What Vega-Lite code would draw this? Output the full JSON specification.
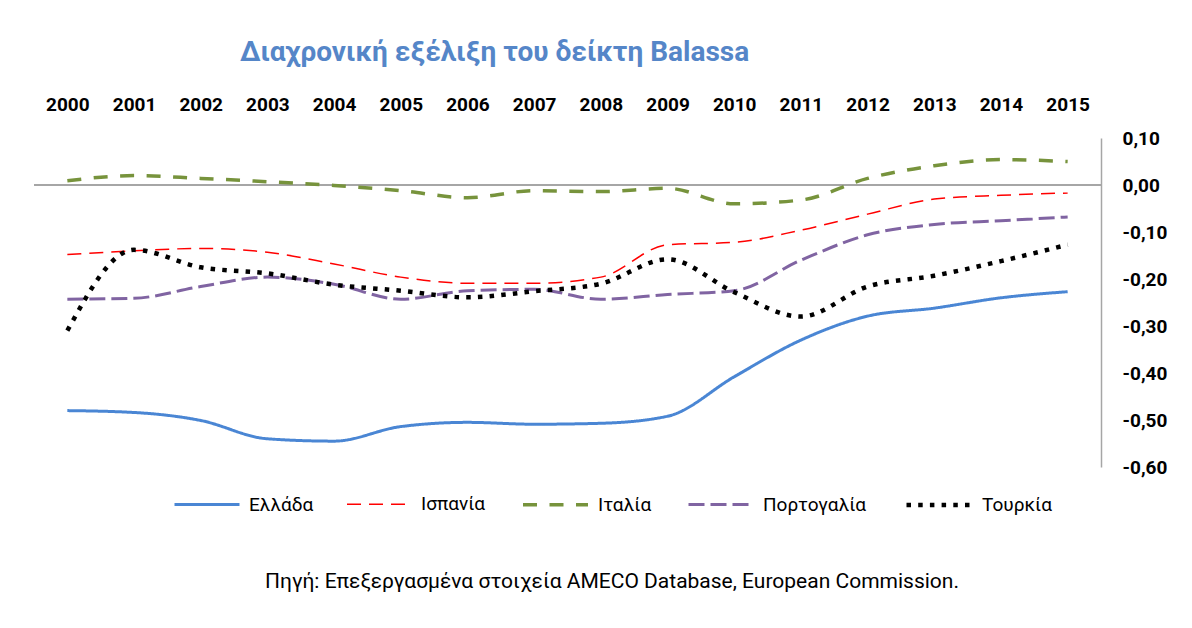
{
  "$schema": "https://vega.github.io/schema/vega-lite/v6.json",
  "autosize": {"type": "none"},
  "width": 1067,
  "height": 329,
  "padding": {"left": 34, "top": 138, "right": 91, "bottom": 161},
  "background": "white",
  "config": {"view": {"stroke": null}},
  "title": {
    "text": "Διαχρονική εξέλιξη του δείκτη Balassa",
    "anchor": "start",
    "frame": "group",
    "dx": 206,
    "offset": 28,
    "font": "Roboto",
    "fontSize": 28,
    "fontWeight": "bold",
    "color": "#5586C8"
  },
  "data": {
    "values": [
      {"year": "2000", "country": "Ελλάδα", "value": -0.480},
      {"year": "2001", "country": "Ελλάδα", "value": -0.484},
      {"year": "2002", "country": "Ελλάδα", "value": -0.501},
      {"year": "2003", "country": "Ελλάδα", "value": -0.540},
      {"year": "2004", "country": "Ελλάδα", "value": -0.545},
      {"year": "2005", "country": "Ελλάδα", "value": -0.514},
      {"year": "2006", "country": "Ελλάδα", "value": -0.505},
      {"year": "2007", "country": "Ελλάδα", "value": -0.509},
      {"year": "2008", "country": "Ελλάδα", "value": -0.507},
      {"year": "2009", "country": "Ελλάδα", "value": -0.492},
      {"year": "2010", "country": "Ελλάδα", "value": -0.408},
      {"year": "2011", "country": "Ελλάδα", "value": -0.330},
      {"year": "2012", "country": "Ελλάδα", "value": -0.279},
      {"year": "2013", "country": "Ελλάδα", "value": -0.262},
      {"year": "2014", "country": "Ελλάδα", "value": -0.240},
      {"year": "2015", "country": "Ελλάδα", "value": -0.227},
      {"year": "2000", "country": "Ισπανία", "value": -0.148},
      {"year": "2001", "country": "Ισπανία", "value": -0.140},
      {"year": "2002", "country": "Ισπανία", "value": -0.135},
      {"year": "2003", "country": "Ισπανία", "value": -0.143},
      {"year": "2004", "country": "Ισπανία", "value": -0.168},
      {"year": "2005", "country": "Ισπανία", "value": -0.196},
      {"year": "2006", "country": "Ισπανία", "value": -0.209},
      {"year": "2007", "country": "Ισπανία", "value": -0.209},
      {"year": "2008", "country": "Ισπανία", "value": -0.196},
      {"year": "2009", "country": "Ισπανία", "value": -0.127},
      {"year": "2010", "country": "Ισπανία", "value": -0.122},
      {"year": "2011", "country": "Ισπανία", "value": -0.096},
      {"year": "2012", "country": "Ισπανία", "value": -0.062},
      {"year": "2013", "country": "Ισπανία", "value": -0.030},
      {"year": "2014", "country": "Ισπανία", "value": -0.022},
      {"year": "2015", "country": "Ισπανία", "value": -0.017},
      {"year": "2000", "country": "Ιταλία", "value": 0.009},
      {"year": "2001", "country": "Ιταλία", "value": 0.020},
      {"year": "2002", "country": "Ιταλία", "value": 0.014},
      {"year": "2003", "country": "Ιταλία", "value": 0.007},
      {"year": "2004", "country": "Ιταλία", "value": -0.001},
      {"year": "2005", "country": "Ιταλία", "value": -0.012},
      {"year": "2006", "country": "Ιταλία", "value": -0.027},
      {"year": "2007", "country": "Ιταλία", "value": -0.012},
      {"year": "2008", "country": "Ιταλία", "value": -0.014},
      {"year": "2009", "country": "Ιταλία", "value": -0.007},
      {"year": "2010", "country": "Ιταλία", "value": -0.040},
      {"year": "2011", "country": "Ιταλία", "value": -0.032},
      {"year": "2012", "country": "Ιταλία", "value": 0.014},
      {"year": "2013", "country": "Ιταλία", "value": 0.041},
      {"year": "2014", "country": "Ιταλία", "value": 0.054},
      {"year": "2015", "country": "Ιταλία", "value": 0.050},
      {"year": "2000", "country": "Πορτογαλία", "value": -0.243},
      {"year": "2001", "country": "Πορτογαλία", "value": -0.241},
      {"year": "2002", "country": "Πορτογαλία", "value": -0.216},
      {"year": "2003", "country": "Πορτογαλία", "value": -0.196},
      {"year": "2004", "country": "Πορτογαλία", "value": -0.211},
      {"year": "2005", "country": "Πορτογαλία", "value": -0.243},
      {"year": "2006", "country": "Πορτογαλία", "value": -0.225},
      {"year": "2007", "country": "Πορτογαλία", "value": -0.222},
      {"year": "2008", "country": "Πορτογαλία", "value": -0.243},
      {"year": "2009", "country": "Πορτογαλία", "value": -0.233},
      {"year": "2010", "country": "Πορτογαλία", "value": -0.225},
      {"year": "2011", "country": "Πορτογαλία", "value": -0.160},
      {"year": "2012", "country": "Πορτογαλία", "value": -0.106},
      {"year": "2013", "country": "Πορτογαλία", "value": -0.084},
      {"year": "2014", "country": "Πορτογαλία", "value": -0.076},
      {"year": "2015", "country": "Πορτογαλία", "value": -0.068},
      {"year": "2000", "country": "Τουρκία", "value": -0.310},
      {"year": "2001", "country": "Τουρκία", "value": -0.138},
      {"year": "2002", "country": "Τουρκία", "value": -0.175},
      {"year": "2003", "country": "Τουρκία", "value": -0.188},
      {"year": "2004", "country": "Τουρκία", "value": -0.212},
      {"year": "2005", "country": "Τουρκία", "value": -0.225},
      {"year": "2006", "country": "Τουρκία", "value": -0.239},
      {"year": "2007", "country": "Τουρκία", "value": -0.226},
      {"year": "2008", "country": "Τουρκία", "value": -0.210},
      {"year": "2009", "country": "Τουρκία", "value": -0.158},
      {"year": "2010", "country": "Τουρκία", "value": -0.228},
      {"year": "2011", "country": "Τουρκία", "value": -0.280},
      {"year": "2012", "country": "Τουρκία", "value": -0.216},
      {"year": "2013", "country": "Τουρκία", "value": -0.193},
      {"year": "2014", "country": "Τουρκία", "value": -0.162},
      {"year": "2015", "country": "Τουρκία", "value": -0.127}
    ]
  },
  "layer": [
    {
      "mark": {"type": "rule", "color": "#A6A6A6", "strokeWidth": 2},
      "encoding": {
        "y": {
          "datum": 0,
          "type": "quantitative",
          "scale": {"domain": [-0.6, 0.1], "nice": false, "zero": false},
          "axis": {
            "orient": "right",
            "title": null,
            "values": [0.1, 0, -0.1, -0.2, -0.3, -0.4, -0.5, -0.6],
            "labelExpr": "replace(replace(format(datum.value, '.2f'), '.', ','), '\u2212', '-')",
            "labelAlign": "left",
            "labelPadding": 21,
            "labelFont": "Roboto",
            "labelFontSize": 19,
            "labelFontWeight": "bold",
            "labelColor": "black",
            "ticks": false,
            "grid": false,
            "domainColor": "#A6A6A6",
            "domainWidth": 1.5
          }
        }
      }
    },
    {
      "mark": {"type": "line", "interpolate": "monotone", "strokeCap": "butt"},
      "encoding": {
        "x": {
          "field": "year",
          "type": "ordinal",
          "scale": {"type": "point", "padding": 0.5},
          "axis": {
            "orient": "top",
            "title": null,
            "labelAngle": 0,
            "labelFont": "Roboto",
            "labelFontSize": 19,
            "labelFontWeight": "bold",
            "labelColor": "black",
            "labelPadding": 24,
            "ticks": false,
            "domain": false,
            "grid": false
          }
        },
        "y": {
          "field": "value",
          "type": "quantitative",
          "scale": {"domain": [-0.6, 0.1], "nice": false, "zero": false},
          "axis": {
            "orient": "right",
            "title": null,
            "values": [0.1, 0, -0.1, -0.2, -0.3, -0.4, -0.5, -0.6],
            "labelExpr": "replace(replace(format(datum.value, '.2f'), '.', ','), '\u2212', '-')",
            "labelAlign": "left",
            "labelPadding": 21,
            "labelFont": "Roboto",
            "labelFontSize": 19,
            "labelFontWeight": "bold",
            "labelColor": "black",
            "ticks": false,
            "grid": false,
            "domainColor": "#A6A6A6",
            "domainWidth": 1.5
          }
        },
        "color": {
          "field": "country",
          "type": "nominal",
          "scale": {
            "domain": ["Ελλάδα", "Ισπανία", "Ιταλία", "Πορτογαλία", "Τουρκία"],
            "range": ["#4A86D4", "#FF0000", "#77933C", "#8064A2", "#000000"]
          },
          "legend": {
            "orient": "none", "legendX": 139, "legendY": 332, "direction": "horizontal",
            "title": "Πηγή: Επεξεργασμένα στοιχεία AMECO Database, European Commission.",
            "titleOrient": "bottom", "titleAnchor": "middle", "titlePadding": 56,
            "titleFont": "Roboto", "titleFontSize": 21, "titleFontWeight": "normal",
            "titleColor": "black", "titleLimit": 2000,
            "symbolType": "stroke", "symbolSize": 4225,
            "labelFont": "Roboto", "labelFontSize": 19, "labelColor": "black",
            "labelOffset": 8, "columnPadding": 30, "labelLimit": 500
          }
        },
        "strokeDash": {
          "field": "country",
          "type": "nominal",
          "scale": {
            "domain": ["Ελλάδα", "Ισπανία", "Ιταλία", "Πορτογαλία", "Τουρκία"],
            "range": [[1, 0], [14, 8], [14, 12.5], [16, 6], [4.5, 7.2]]
          },
          "legend": {
            "orient": "none", "legendX": 139, "legendY": 332, "direction": "horizontal",
            "title": "Πηγή: Επεξεργασμένα στοιχεία AMECO Database, European Commission.",
            "titleOrient": "bottom", "titleAnchor": "middle", "titlePadding": 56,
            "titleFont": "Roboto", "titleFontSize": 21, "titleFontWeight": "normal",
            "titleColor": "black", "titleLimit": 2000,
            "symbolType": "stroke", "symbolSize": 4225,
            "labelFont": "Roboto", "labelFontSize": 19, "labelColor": "black",
            "labelOffset": 8, "columnPadding": 30, "labelLimit": 500
          }
        },
        "strokeWidth": {
          "field": "country",
          "type": "nominal",
          "scale": {
            "type": "ordinal",
            "domain": ["Ελλάδα", "Ισπανία", "Ιταλία", "Πορτογαλία", "Τουρκία"],
            "range": [3, 1.5, 3.5, 3, 4.5]
          },
          "legend": {
            "orient": "none", "legendX": 139, "legendY": 332, "direction": "horizontal",
            "title": "Πηγή: Επεξεργασμένα στοιχεία AMECO Database, European Commission.",
            "titleOrient": "bottom", "titleAnchor": "middle", "titlePadding": 56,
            "titleFont": "Roboto", "titleFontSize": 21, "titleFontWeight": "normal",
            "titleColor": "black", "titleLimit": 2000,
            "symbolType": "stroke", "symbolSize": 4225,
            "labelFont": "Roboto", "labelFontSize": 19, "labelColor": "black",
            "labelOffset": 8, "columnPadding": 30, "labelLimit": 500
          }
        }
      }
    }
  ]
}
